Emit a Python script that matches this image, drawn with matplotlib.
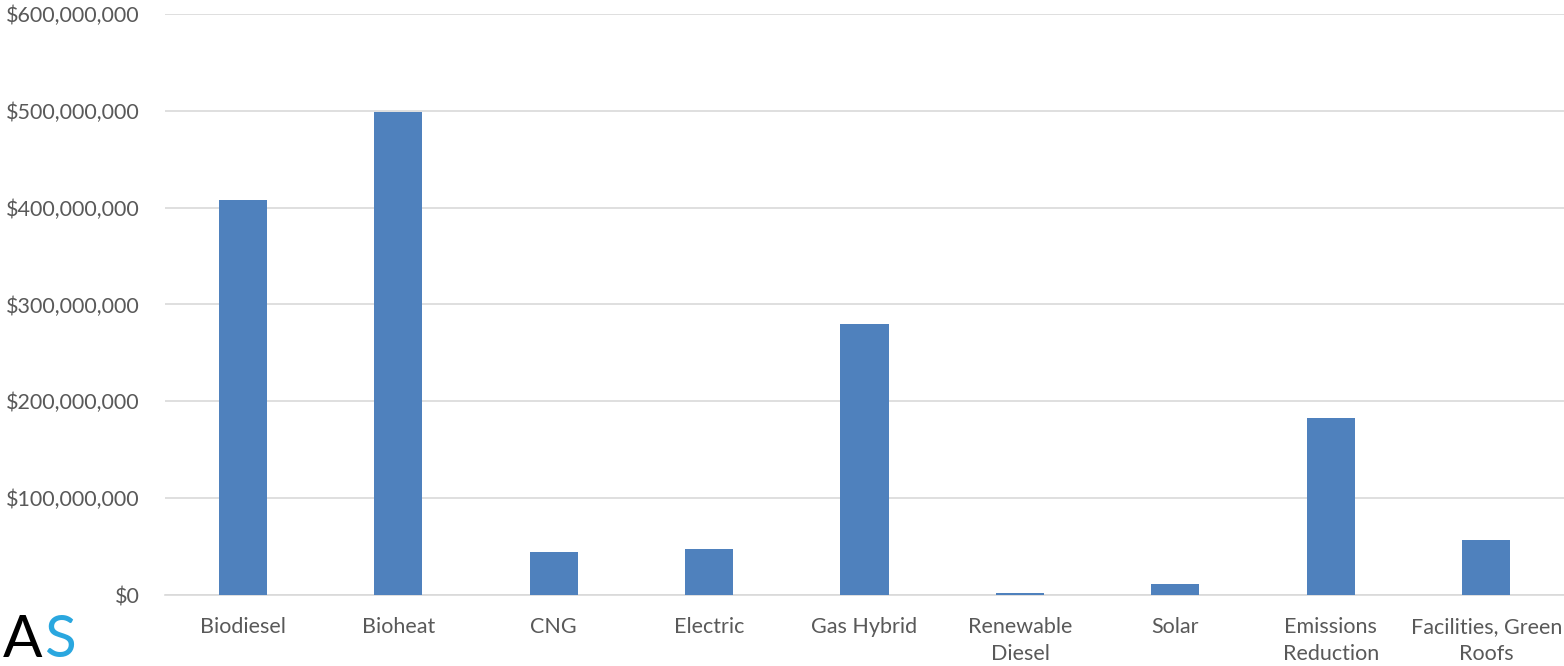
import matplotlib
matplotlib.use('Agg')
import matplotlib.pyplot as plt
from matplotlib.ticker import FuncFormatter

# data
categories = ['Biodiesel', 'Bioheat', 'CNG', 'Electric', 'Gas Hybrid',
              'Renewable\nDiesel', 'Solar', 'Emissions\nReduction', 'Facilities, Green\nRoofs']
values = [408e6, 499e6, 44.5e6, 47.5e6, 280e6, 2e6, 11.5e6, 182.5e6, 57e6]
yticks = [0, 100e6, 200e6, 300e6, 400e6, 500e6, 600e6]

plt.rcParams['font.family'] = ['Lato', 'DejaVu Sans']

fig = plt.figure(figsize=(15.64, 6.66), dpi=100)
ax = fig.add_axes([0.1055, 0.1066, 0.8945, 0.8724])

x = range(len(categories))
ax.bar(x, values, width=0.31, color='#4F81BD', zorder=3)

ax.set_xlim(-0.5, len(categories) - 0.5)
ax.set_ylim(0, 600e6)
ax.set_yticks(yticks)
ax.yaxis.set_major_formatter(FuncFormatter(lambda v, p: '${:,.0f}'.format(v)))
ax.set_xticks(list(x))
ax.set_xticklabels(categories, linespacing=1.45)

ax.grid(axis='y', color='#D9D9D9', linewidth=1.2, zorder=0)
for s in ['top', 'right', 'left']:
    ax.spines[s].set_visible(False)
ax.spines['bottom'].set_color('#D9D9D9')
ax.spines['bottom'].set_linewidth(1.2)
ax.tick_params(axis='both', length=0, labelsize=15.5, colors='#595959')
ax.tick_params(axis='y', pad=18)
ax.tick_params(axis='x', pad=16)

# logo in the bottom-left corner
fig.text(0.002, 0.014, 'A', fontsize=42, color='black', ha='left', va='baseline')
fig.text(0.028, 0.014, 'S', fontsize=42, color='#2AA7DF', ha='left', va='baseline')

plt.savefig('out.png', dpi=100)
plt.close()
